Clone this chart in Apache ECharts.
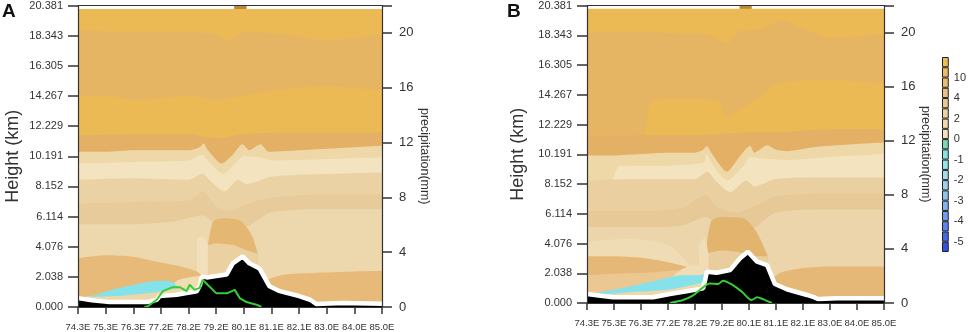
<!DOCTYPE html>
<html>
<head>
<meta charset="utf-8">
<script src="https://cdn.jsdelivr.net/npm/echarts@6/dist/echarts.min.js"></script>
<style>
  html, body { margin: 0; padding: 0; background: #fff; }
  #chart { width: 969px; height: 332px; }
</style>
</head>
<body>
<div id="chart"></div>
<script>
// axis labels
var xLabels = ['74.3E', '75.3E', '76.3E', '77.2E', '78.2E', '79.2E', '80.1E', '81.1E', '82.1E', '83.0E', '84.0E', '85.0E']
var heightTicks = ['0.000', '2.038', '4.076', '6.114', '8.152', '10.191', '12.229', '14.267', '16.305', '18.343', '20.381']
var precipTicks = [0, 4, 8, 12, 16, 20]
var cbLabels = ['-5', '-4', '-3', '-2', '-1', '0', '2', '4', '10']
var cbLabelEdges = [1, 3, 5, 7, 9, 11, 13, 15, 17]

// contour band boundaries, [x index, km], drawn top band first
var aCap = [[5.65, 20.381], [6.1, 20.381]]
var aL1 = [[0, 20.15], [11, 20.15]]
var aL2 = [[0, 18.7], [2, 18.6], [4, 18.6], [5, 18.4], [5.5, 18.0], [6, 18.6], [7, 18.5], [8, 18.3], [9, 18.0], [10, 18.2], [11, 18.4]]
var aL3 = [[0, 14.2], [1, 14.3], [2, 14.0], [3, 14.1], [4, 14.3], [5, 14.0], [6, 14.3], [7, 14.6], [8, 14.8], [9, 14.9], [10, 14.8], [11, 14.6]]
var aL4 = [[0, 11.6], [2, 11.7], [4, 11.7], [5, 11.4], [6, 11.7], [8, 11.8], [11, 11.8]]
var aL5 = [[0, 10.5], [1, 10.5], [2, 10.6], [3, 10.6], [4, 10.6], [4.4, 10.8], [4.55, 11.05], [4.7, 10.6], [5.2, 9.7], [5.6, 10.3], [5.95, 11.0], [6.2, 10.6], [6.6, 11.0], [6.9, 10.5], [8, 10.6], [9, 10.7], [10, 10.8], [11, 10.9]]
var aL6 = [[0, 9.7], [2, 9.8], [4, 9.9], [4.5, 10.3], [4.7, 9.9], [5.25, 9.0], [5.7, 9.7], [6.0, 10.2], [6.6, 10.1], [7, 9.9], [9, 10.0], [11, 10.1]]
var aL7 = [[0, 8.6], [2, 8.7], [4, 8.6], [4.5, 9.0], [4.8, 8.5], [5.3, 7.8], [5.8, 8.6], [6.1, 8.3], [7, 8.8], [9, 9.0], [11, 9.1]]
var aL8 = [[0, 7.0], [2, 7.1], [4, 7.2], [4.5, 7.8], [5, 6.8], [5.5, 6.5], [6, 6.9], [7, 7.4], [9, 7.6], [11, 7.6]]
var aL9 = [[0, 5.6], [2, 5.6], [3.5, 5.8], [4.5, 6.2], [5, 5.6], [6, 5.4], [7, 6.4], [9, 6.6], [11, 6.6]]
var aTongue = [[4.7, 4.2], [4.9, 5.8], [5.3, 6.0], [5.9, 5.8], [6.3, 4.8], [6.5, 3.6]]
var aBelowTongue = [[4.7, 4.2], [5.0, 4.3], [5.6, 4.2], [6.0, 3.9], [6.5, 3.6]]
var aPale1 = [[4.3, 4.6], [4.5, 4.8], [4.7, 4.2]]
var aOrange = [[0, 3.3], [1, 3.5], [2, 3.4], [3, 3.0], [3.8, 2.7], [4.3, 2.4], [4.6, 2.0], [5.5, 1.8], [6.5, 1.6], [6.9, 1.9], [7.5, 2.2], [8.5, 2.3], [10, 2.4], [11, 2.45]]
var aPale2 = [[3.2, 1.0], [3.6, 1.8], [4.0, 2.0], [4.45, 2.1], [4.5, 1.0]]
var aLensTop = [[0.3, 0.72], [0.6, 0.8], [1.2, 1.15], [1.8, 1.4], [2.6, 1.72], [3.0, 1.75], [3.4, 1.7], [3.65, 1.3]]
var aLensBot = [[0.3, 0.72], [0.6, 0.68], [1.2, 0.72], [1.8, 0.8], [2.6, 0.95], [3.0, 1.07], [3.4, 1.2], [3.65, 1.3]]
var aTerrain = [[0, 0.6], [0.5, 0.45], [1.15, 0.33], [2.5, 0.33], [2.85, 0.49], [2.96, 0.74], [3.57, 0.83], [3.93, 0.94], [4.3, 1.06], [4.42, 1.5], [4.48, 2.07], [4.66, 2.0], [5.0, 2.1], [5.38, 2.2], [5.6, 2.95], [5.96, 3.42], [6.2, 2.95], [6.57, 2.6], [6.93, 1.4], [7.3, 1.07], [8.0, 0.74], [8.4, 0.49], [8.63, 0.2], [9.57, 0.27], [11, 0.22]]
var aRain = [[2.4, 0], [2.53, 0.05], [2.85, 0.53], [3.07, 1.16], [3.43, 1.45], [3.68, 1.45], [3.93, 1.16], [4.04, 1.62], [4.22, 1.25], [4.4, 1.4], [4.51, 1.98], [4.69, 1.62], [5.0, 1.01], [5.38, 1.0], [5.49, 1.09], [5.67, 1.25], [5.85, 0.65], [6.1, 0.36], [6.46, 0.17], [6.64, 0]]

var bCap = [[5.65, 20.381], [6.1, 20.381]]
var bL1 = [[0, 20.15], [11, 20.15]]
var bL2 = [[0, 18.5], [1.5, 18.6], [3, 18.5], [4.5, 18.4], [5.2, 17.8], [5.6, 18.6], [6.5, 18.8], [7.2, 19.4], [8, 18.8], [9, 18.2], [11, 18.4]]
var bL3 = [[0, 11.3], [2, 11.3], [2.4, 13.8], [3.5, 14.0], [4.8, 13.9], [5.2, 12.8], [5.8, 13.4], [6.5, 14.2], [7, 15.0], [8.5, 15.3], [10, 15.2], [11, 15.0]]
var bL4 = [[0, 11.4], [2, 11.5], [4, 11.5], [5, 11.6], [6, 11.7], [7, 11.7], [9, 11.9], [11, 11.9]]
var bL5 = [[0, 10.1], [1, 10.1], [2, 10.2], [3, 10.3], [4, 10.3], [4.3, 10.5], [4.44, 10.75], [4.6, 10.3], [5.19, 9.0], [5.6, 9.9], [6.04, 10.75], [6.2, 10.3], [6.67, 10.8], [7.0, 10.5], [7.4, 10.4], [8.5, 10.7], [10, 10.9], [11, 11.0]]
var bL6 = [[0, 8.3], [0.9, 8.4], [1.2, 9.35], [3, 9.4], [4.3, 9.6], [4.45, 10.2], [4.6, 9.6], [5.2, 8.4], [5.8, 9.4], [6.04, 10.0], [6.5, 9.9], [7.5, 9.8], [9, 10.0], [11, 10.2]]
var bL7 = [[0, 8.4], [2, 8.5], [4, 8.5], [4.45, 9.0], [4.8, 8.3], [5.3, 7.6], [5.9, 8.4], [6.2, 8.0], [7, 8.5], [9, 8.6], [11, 8.6]]
var bL8 = [[0, 6.3], [2, 6.3], [3.5, 6.5], [4.4, 7.4], [4.8, 6.6], [5.5, 6.2], [6.3, 6.7], [7, 7.3], [9, 7.5], [11, 7.5]]
var bL9 = [[0, 5.2], [2, 5.2], [3.5, 5.3], [4.4, 5.9], [5, 5.2], [6, 5.0], [7, 6.2], [9, 6.4], [11, 6.4]]
var bTongue = [[4.4, 3.4], [4.6, 5.6], [5.0, 5.9], [5.8, 5.8], [6.3, 4.8], [6.7, 3.2]]
var bBelowTongue = [[4.4, 3.4], [5.0, 3.6], [5.6, 3.5], [6.2, 3.2], [6.7, 3.2]]
var bPale1 = [[4.15, 4.0], [4.35, 4.5], [4.5, 3.3]]
var bPale0 = [[0, 4.2], [1.5, 4.4], [3, 4.0], [3.9, 2.4]]
var bOrange = [[0, 3.2], [1, 3.2], [2, 3.1], [3, 2.8], [3.9, 2.4], [4.4, 2.2], [5, 1.8], [6, 1.8], [6.8, 1.7], [7.2, 2.1], [8, 2.4], [9, 2.5], [10, 2.5], [11, 2.5]]
var bLower = [[0, 1.9], [1, 2.0], [2, 2.05], [3, 2.2], [3.9, 2.3], [4.4, 2.1]]
var bPale2 = [[3.1, 1.7], [3.5, 2.3], [4.0, 2.6], [4.44, 2.6], [4.5, 1.2]]
var bLensTop = [[0.15, 0.66], [0.6, 0.77], [1.85, 1.23], [3.07, 1.76], [3.44, 1.9], [4.07, 1.9], [4.37, 1.97], [4.45, 1.5]]
var bLensBot = [[0.15, 0.66], [0.6, 0.62], [1.85, 0.77], [3.07, 0.93], [4.07, 1.3], [4.45, 1.5]]
var bTerrain = [[0, 0.62], [0.5, 0.5], [0.97, 0.39], [2.45, 0.39], [3.07, 0.62], [3.8, 0.84], [4.3, 1.0], [4.38, 1.6], [4.44, 2.14], [4.8, 2.07], [5.3, 2.26], [5.67, 3.06], [5.96, 3.51], [6.3, 2.83], [6.67, 2.6], [6.96, 1.3], [7.4, 0.94], [8.15, 0.55], [8.4, 0.4], [8.55, 0.27], [9.26, 0.32], [11, 0.32]]
var bRain = [[3.07, 0], [3.56, 0.22], [3.9, 0.52], [4.25, 1.08], [4.55, 1.45], [4.85, 1.4], [5.04, 1.65], [5.4, 1.33], [5.74, 0.83], [6.1, 0.22], [6.3, 0.42], [6.53, 0.27], [6.85, 0]]

// styles
var bright = '#ECBA54', muted = '#E6B564', darkMuted = '#E3B066'
var layersA = [aCap, aL1, aL2, aL3, aL4, aL5, aL6, aL7, aL8, aL9, aTongue, aBelowTongue, aPale1, aOrange, aPale2, aLensTop, aLensBot]
var colorsA = ['#B8893A', bright, muted, bright, darkMuted, '#EFD8A8', '#F3E3BF', '#EBD2A4', '#E7CB9A', '#EDD7AC', '#E4B872', '#EBD1A2', '#F2E0BC', '#E7BA7A', '#F1DDB4', '#84E3EA', '#EED6AA']
var layersB = [bCap, bL1, bL2, bL3, bL4, bL5, bL6, bL7, bL8, bL9, bTongue, bBelowTongue, bPale1, bPale0, bOrange, bLower, bPale2, bLensTop, bLensBot]
var colorsB = ['#B8893A', bright, muted, bright, darkMuted, '#EFD8A8', '#F3E3BF', '#EAD0A0', '#E6C997', '#ECD5AA', '#E3B46E', '#EACD9C', '#F1DDB5', '#F0DCB4', '#E6B878', '#EBC791', '#F0DDB6', '#86E2EA', '#EFD8AC']
var cbColors = ['#3050E6', '#4468EA', '#5A84EE', '#6E9CF0', '#82B2F0', '#94C4EE', '#A0D0EC', '#A6DCEA', '#98E4E8', '#86E4E2', '#80D8B2',
  '#F4E2BC', '#F1DAAE', '#EED2A0', '#EBC892', '#E9C086', '#ECBE74', '#EEBC62', '#EFBE52']

var font = 'Liberation Sans, Arial, sans-serif'
var ink = '#333'

function layerSeries (data, color, xi, yi) {
  return {
    type: 'line', xAxisIndex: xi, yAxisIndex: yi, data: data,
    symbol: 'none', smooth: 0.25, silent: true,
    lineStyle: { width: 0 },
    areaStyle: { color: color, opacity: 1 }
  }
}

function panelSeries (layers, colors, terrain, rain, xi, yi, yiRight) {
  var list = layers.map(function (d, i) { return layerSeries(d, colors[i], xi, yi) })
  list.push({
    type: 'line', xAxisIndex: xi, yAxisIndex: yi, data: terrain, symbol: 'none', silent: true,
    lineStyle: { color: '#fff', width: 4.5 }
  })
  list.push({
    type: 'line', xAxisIndex: xi, yAxisIndex: yi, data: terrain, symbol: 'none', silent: true,
    lineStyle: { width: 0 }, areaStyle: { color: '#000', opacity: 1 }
  })
  list.push({
    type: 'line', xAxisIndex: xi, yAxisIndex: yiRight, data: rain, symbol: 'none', silent: true,
    smooth: xi === 2 ? 0.3 : false,
    lineStyle: { color: '#36CC36', width: 2 }
  })
  return list
}

function bottomAxis (gi) {
  return {
    type: 'value', gridIndex: gi, position: 'bottom', min: 0, max: 11, interval: 1, z: 10,
    axisLine: { onZero: false, lineStyle: { color: ink, width: 1.2 } },
    axisTick: { show: true, inside: false, length: 7, lineStyle: { color: ink, width: 1.5 } },
    axisLabel: {
      color: ink, fontSize: 9.5, fontFamily: font, margin: 15, showMinLabel: true, showMaxLabel: true, hideOverlap: false,
      formatter: function (v) { return xLabels[Math.round(v)] }
    },
    splitLine: { show: false }
  }
}

function topAxis (gi) {
  return {
    type: 'value', gridIndex: gi, position: 'top', min: 0, max: 11, z: 10,
    axisLine: { onZero: false, lineStyle: { color: ink, width: 1.2 } },
    axisTick: { show: false }, axisLabel: { show: false }, splitLine: { show: false }
  }
}

function heightAxis (gi, gap) {
  return {
    type: 'value', gridIndex: gi, position: 'left', min: 0, max: 20.381, interval: 2.0381, z: 10,
    name: 'Height (km)', nameLocation: 'middle', nameGap: gap,
    nameTextStyle: { fontSize: 18, color: ink, fontFamily: font },
    axisLine: { show: true, onZero: false, lineStyle: { color: ink, width: 1.2 } },
    axisTick: { show: true, inside: false, length: 10, lineStyle: { color: ink, width: 1.5 } },
    axisLabel: {
      color: ink, fontSize: 11, fontFamily: font, margin: 15, showMinLabel: true, showMaxLabel: true,
      formatter: function (v) { return heightTicks[Math.round(v / 2.0381)] }
    },
    splitLine: { show: false }
  }
}

function precipAxis (gi, gap) {
  return {
    type: 'value', gridIndex: gi, position: 'right', min: 0, max: 22, interval: 4, z: 10,
    name: 'precipitation(mm)', nameLocation: 'middle', nameGap: gap, nameRotate: -90,
    nameTextStyle: { fontSize: 12.5, color: ink, fontFamily: font },
    axisLine: { show: true, onZero: false, lineStyle: { color: ink, width: 1.2 } },
    axisTick: { show: true, inside: false, length: 10, lineStyle: { color: ink, width: 1.5 } },
    axisLabel: {
      color: ink, fontSize: 13, fontFamily: font, margin: 17, showMinLabel: true,
      formatter: function (v) { return precipTicks.indexOf(v) >= 0 ? String(v) : '' }
    },
    splitLine: { show: false }
  }
}

var myChart = echarts.init(document.getElementById('chart'))

var series = []
  .concat(panelSeries(layersA, colorsA, aTerrain, aRain, 0, 0, 1))
  .concat(panelSeries(layersB, colorsB, bTerrain, bRain, 2, 2, 3))

series.push({
  type: 'bar', xAxisIndex: 4, yAxisIndex: 4, barWidth: '100%', silent: true,
  data: cbColors.map(function (c) { return { value: 1, itemStyle: { color: c } } }),
  itemStyle: { borderColor: '#222', borderWidth: 1 }
})

var option = {
  animation: false,
  backgroundColor: '#fff',
  textStyle: { fontFamily: font },
  grid: [
    { left: 78, top: 5, width: 304, height: 304 },
    { left: 587, top: 5, width: 297, height: 298 },
    { left: 942, top: 57, width: 10, height: 195 }
  ],
  graphic: [
    { type: 'text', left: 2, top: 2, style: { text: 'A', fontSize: 19, fontWeight: 'bold', fill: '#111', fontFamily: font } },
    { type: 'text', left: 507, top: 2, style: { text: 'B', fontSize: 19, fontWeight: 'bold', fill: '#111', fontFamily: font } }
  ],
  xAxis: [
    bottomAxis(0), topAxis(0), bottomAxis(1), topAxis(1),
    { type: 'value', gridIndex: 2, min: 0, max: 1, show: false }
  ],
  yAxis: [
    heightAxis(0, 56), precipAxis(0, 36), heightAxis(1, 60), precipAxis(1, 33),
    { type: 'category', gridIndex: 2, data: cbColors.map(function (c, i) { return i }), show: false },
    {
      type: 'value', gridIndex: 2, position: 'right', min: 0, max: 19, interval: 1,
      axisLine: { show: false }, axisTick: { show: false }, splitLine: { show: false },
      axisLabel: {
        color: ink, fontSize: 11, fontFamily: font, margin: 5,
        formatter: function (v) {
          var k = cbLabelEdges.indexOf(Math.round(v))
          return k >= 0 ? cbLabels[k] : ''
        }
      }
    }
  ],
  series: series
}
myChart.setOption(option)
</script>
</body>
</html>
